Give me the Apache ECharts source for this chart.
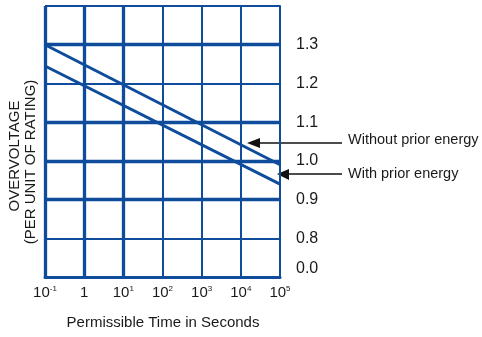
<!DOCTYPE html>
<html><head><meta charset="utf-8">
<script src="https://cdn.jsdelivr.net/npm/echarts@6/dist/echarts.min.js"></script>
<style>html,body{margin:0;padding:0;background:#fff}#c{width:482px;height:337px}</style>
</head><body><div id="c"></div>
<script>
// Data
const timePoints = [0.1, 100000];            // seconds (log axis)
const withoutPrior = [1.30, 0.99];           // per unit
const withPrior = [1.245, 0.94];             // per unit
const xTickBase = ['10', '1', '10', '10', '10', '10', '10'];
const xTickExp = ['-1', '', '1', '2', '3', '4', '5'];
const yTickValues = [0.7, 0.8, 0.9, 1.0, 1.1, 1.2, 1.3, 1.4];
const yTickLabels = ['0.0', '0.8', '0.9', '1.0', '1.1', '1.2', '1.3', ''];
const thickY = [1.3, 1.1, 1.0, 0.9];
const thickX = [0.1, 1, 10];

const BLUE = '#0f4c9c';
const TXT = '#1a1a1a';
const FONT = 'Liberation Sans';

const chart = echarts.init(document.getElementById('c'), null, {renderer: 'canvas'});
const markData = thickY.map(v => ({yAxis: v})).concat(thickX.map(v => ({xAxis: v})));

chart.setOption({
  animation: false,
  backgroundColor: '#fff',
  grid: {left: 45, top: 6, width: 235, height: 271, containLabel: false},
  xAxis: {
    type: 'log', logBase: 10, min: 0.1, max: 100000, interval: 1,
    axisLine: {show: true, lineStyle: {color: BLUE, width: 3}},
    axisTick: {show: false},
    splitLine: {show: true, lineStyle: {color: BLUE, width: 2}},
    minorSplitLine: {show: false},
    axisLabel: {
      margin: 8, color: TXT, fontFamily: FONT, fontSize: 15,
      formatter: function (v) {
        const i = Math.round(Math.log10(v)) + 1;
        if (i < 0 || i >= xTickBase.length) return '';
        return xTickExp[i] ? xTickBase[i] + '{s|' + xTickExp[i] + '}' : xTickBase[i];
      },
      rich: {s: {fontSize: 8, fontFamily: FONT, color: TXT, verticalAlign: 'top', lineHeight: 16}}
    }
  },
  yAxis: {
    type: 'value', position: 'right', min: 0.7, max: 1.4, interval: 0.1,
    axisLine: {show: true, lineStyle: {color: BLUE, width: 2}},
    axisTick: {show: false},
    splitLine: {show: true, lineStyle: {color: BLUE, width: 2}},
    axisLabel: {
      margin: 16, color: TXT, fontFamily: FONT, fontSize: 16,
      formatter: function (v) {
        let idx = -1;
        yTickValues.forEach((t, k) => { if (Math.abs(t - v) < 1e-6) idx = k; });
        if (idx < 0) return '';
        const s = yTickLabels[idx];
        if (!s) return '';
        return idx === 0 ? '{z|' + s + '}' : s;
      },
      rich: {z: {fontSize: 16, fontFamily: FONT, color: TXT, padding: [0, 0, 16, 0]}}
    }
  },
  series: [
    {
      type: 'line', name: 'Without prior energy',
      data: timePoints.map((t, i) => [t, withoutPrior[i]]),
      showSymbol: false, lineStyle: {color: BLUE, width: 3}, clip: true, z: 5,
      markLine: {
        silent: true, symbol: 'none', label: {show: false},
        lineStyle: {color: BLUE, width: 3.3, type: 'solid'},
        data: markData
      }
    },
    {
      type: 'line', name: 'With prior energy',
      data: timePoints.map((t, i) => [t, withPrior[i]]),
      showSymbol: false, lineStyle: {color: BLUE, width: 3}, clip: true, z: 5
    }
  ],
  graphic: [
    {type: 'text', x: 15, y: 156, rotation: Math.PI / 2,
      style: {text: 'OVERVOLTAGE', fill: TXT, font: '15px "Liberation Sans"', textAlign: 'center', textVerticalAlign: 'middle'}},
    {type: 'text', x: 31, y: 162, rotation: Math.PI / 2,
      style: {text: '(PER UNIT OF RATING)', fill: TXT, font: '15px "Liberation Sans"', textAlign: 'center', textVerticalAlign: 'middle'}},
    {type: 'text', x: 163, y: 323,
      style: {text: 'Permissible Time in Seconds', fill: TXT, font: '15px "Liberation Sans"', textAlign: 'center', textVerticalAlign: 'middle'}},
    {type: 'line', shape: {x1: 258, y1: 143, x2: 342, y2: 143}, style: {stroke: '#111', lineWidth: 1.3}},
    {type: 'polygon', shape: {points: [[247, 143], [260, 138], [260, 148]]}, style: {fill: '#111'}},
    {type: 'text', x: 348, y: 140,
      style: {text: 'Without prior energy', fill: TXT, font: '14.5px "Liberation Sans"', textAlign: 'left', textVerticalAlign: 'middle'}},
    {type: 'line', shape: {x1: 288, y1: 174, x2: 342, y2: 174}, style: {stroke: '#111', lineWidth: 1.3}},
    {type: 'polygon', shape: {points: [[277, 174], [289, 169], [289, 180]]}, style: {fill: '#111'}},
    {type: 'text', x: 348, y: 174,
      style: {text: 'With prior energy', fill: TXT, font: '14.5px "Liberation Sans"', textAlign: 'left', textVerticalAlign: 'middle'}}
  ]
});
</script></body></html>
